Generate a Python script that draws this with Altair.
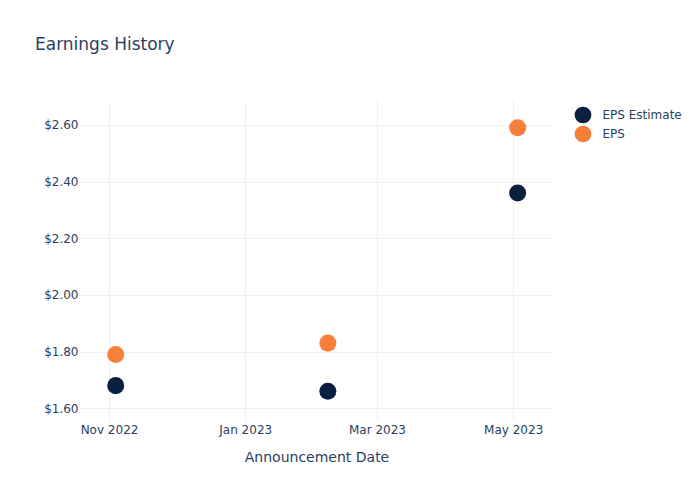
import altair as alt
import pandas as pd

dates = ["2022-11-04", "2023-02-07", "2023-05-03"]
eps_estimate = [1.68, 1.66, 2.36]
eps_actual = [1.79, 1.83, 2.59]
series_names = ["EPS Estimate", "EPS"]
series_colors = ["#0b1f41", "#f6803a"]

rows = []
for d, e, a in zip(dates, eps_estimate, eps_actual):
    rows.append({"date": d + "T00:00:00Z", "value": e, "series": series_names[0]})
    rows.append({"date": d + "T00:00:00Z", "value": a, "series": series_names[1]})
df = pd.DataFrame(rows)

FONT = "DejaVu Sans"
TXT = "#2a3f5f"
GRID = "#ebf0f8"

x_ticks = [
    alt.DateTime(year=2022, month=11, date=1, utc=True),
    alt.DateTime(year=2023, month=1, date=1, utc=True),
    alt.DateTime(year=2023, month=3, date=1, utc=True),
    alt.DateTime(year=2023, month=5, date=1, utc=True),
]
x_domain = [
    alt.DateTime(year=2022, month=10, date=19, hours=0, utc=True),
    alt.DateTime(year=2023, month=5, date=18, hours=20, utc=True),
]

chart = (
    alt.Chart(df)
    .mark_circle(size=290, opacity=1)
    .encode(
        x=alt.X(
            "date:T",
            scale=alt.Scale(type="utc", domain=x_domain, nice=False),
            axis=alt.Axis(
                title="Announcement Date",
                values=x_ticks,
                labelExpr="utcFormat(datum.value, '%b %Y')",
                labelFontSize=12,
                labelColor=TXT,
                labelFont=FONT,
                labelPadding=4,
                titleFont=FONT,
                titleFontSize=14,
                titleFontWeight="normal",
                titleColor=TXT,
                titlePadding=15,
                ticks=False,
                domain=False,
                grid=True,
                gridColor=GRID,
                labelAngle=0,
            ),
        ),
        y=alt.Y(
            "value:Q",
            scale=alt.Scale(domain=[1.5587, 2.688], nice=False, zero=False),
            axis=alt.Axis(
                title=None,
                values=[1.6, 1.8, 2.0, 2.2, 2.4, 2.6],
                format="$.2f",
                labelFontSize=12,
                labelColor=TXT,
                labelFont=FONT,
                labelPadding=2,
                ticks=False,
                domain=False,
                grid=True,
                gridColor=GRID,
            ),
        ),
        color=alt.Color(
            "series:N",
            scale=alt.Scale(domain=series_names, range=series_colors),
            legend=alt.Legend(
                title=None,
                orient="none",
                legendX=494.5,
                legendY=6.5,
                symbolType="circle",
                symbolSize=280,
                symbolStrokeWidth=0,
                symbolOpacity=1,
                labelFont=FONT,
                labelFontSize=12,
                labelColor=TXT,
                labelOffset=11,
                rowPadding=2,
                padding=0,
            ),
        ),
        order=alt.Order("series:N", sort="ascending"),
    )
    .properties(
        width=473,
        height=320,
        background="white",
        title=alt.TitleParams(
            "Earnings History",
            anchor="start",
            frame="group",
            dx=-45,
            offset=46,
            font=FONT,
            fontSize=17,
            fontWeight="normal",
            color=TXT,
        ),
        autosize=alt.AutoSizeParams(type="none"),
        padding={"left": 80, "top": 100, "right": 147, "bottom": 80},
    )
    .configure_view(strokeWidth=0, stroke=None)
)

chart.save("out.html", embed_options={"renderer": "svg", "actions": False})
